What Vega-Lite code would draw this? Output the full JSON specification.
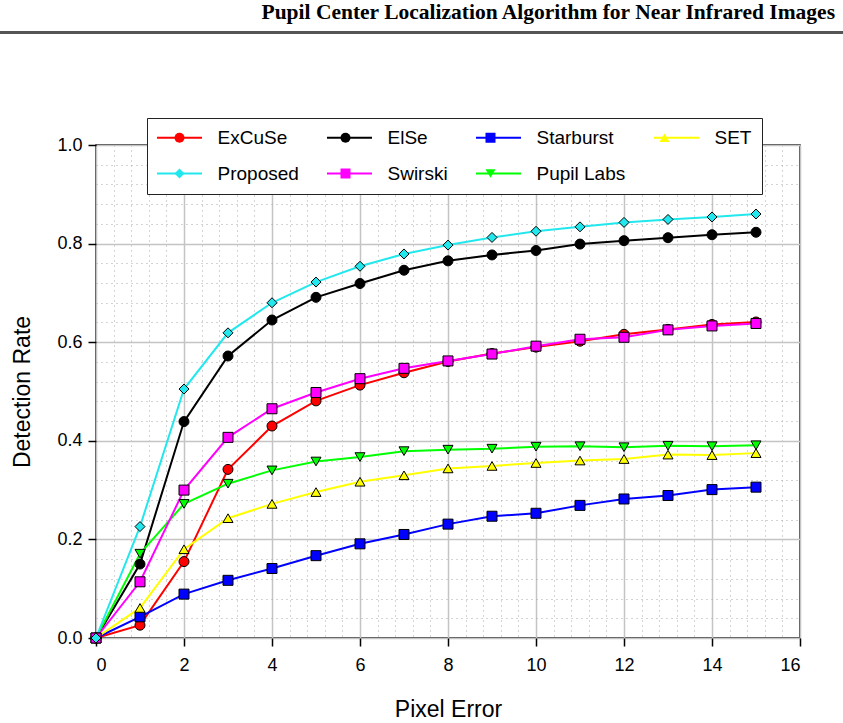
{
  "$schema": "https://vega.github.io/schema/vega-lite/v6.json",
  "width": 704,
  "height": 493,
  "autosize": {"type": "none"},
  "padding": {"left": 96, "top": 145, "right": 43, "bottom": 85},
  "background": "white",
  "title": {
    "text": "Pupil Center Localization Algorithm for Near Infrared Images",
    "anchor": "end",
    "frame": "group",
    "font": "Liberation Serif",
    "fontSize": 21.5,
    "fontWeight": "bold",
    "color": "black",
    "dx": 35,
    "offset": 8
  },
  "config": {
    "view": {"stroke": "#111111", "strokeWidth": 1.5},
    "font": "Liberation Sans"
  },
  "data": {
    "values": [
      {"m":"ExCuSe","x":0,"y":0},{"m":"ExCuSe","x":1,"y":0.026},{"m":"ExCuSe","x":2,"y":0.155},{"m":"ExCuSe","x":3,"y":0.342},{"m":"ExCuSe","x":4,"y":0.43},{"m":"ExCuSe","x":5,"y":0.481},{"m":"ExCuSe","x":6,"y":0.513},{"m":"ExCuSe","x":7,"y":0.538},{"m":"ExCuSe","x":8,"y":0.561},{"m":"ExCuSe","x":9,"y":0.577},{"m":"ExCuSe","x":10,"y":0.59},{"m":"ExCuSe","x":11,"y":0.602},{"m":"ExCuSe","x":12,"y":0.616},{"m":"ExCuSe","x":13,"y":0.626},{"m":"ExCuSe","x":14,"y":0.636},{"m":"ExCuSe","x":15,"y":0.641},
      {"m":"ElSe","x":0,"y":0},{"m":"ElSe","x":1,"y":0.15},{"m":"ElSe","x":2,"y":0.439},{"m":"ElSe","x":3,"y":0.572},{"m":"ElSe","x":4,"y":0.645},{"m":"ElSe","x":5,"y":0.691},{"m":"ElSe","x":6,"y":0.719},{"m":"ElSe","x":7,"y":0.746},{"m":"ElSe","x":8,"y":0.765},{"m":"ElSe","x":9,"y":0.777},{"m":"ElSe","x":10,"y":0.786},{"m":"ElSe","x":11,"y":0.799},{"m":"ElSe","x":12,"y":0.806},{"m":"ElSe","x":13,"y":0.812},{"m":"ElSe","x":14,"y":0.818},{"m":"ElSe","x":15,"y":0.823},
      {"m":"Starburst","x":0,"y":0},{"m":"Starburst","x":1,"y":0.043},{"m":"Starburst","x":2,"y":0.089},{"m":"Starburst","x":3,"y":0.117},{"m":"Starburst","x":4,"y":0.141},{"m":"Starburst","x":5,"y":0.167},{"m":"Starburst","x":6,"y":0.191},{"m":"Starburst","x":7,"y":0.21},{"m":"Starburst","x":8,"y":0.231},{"m":"Starburst","x":9,"y":0.247},{"m":"Starburst","x":10,"y":0.253},{"m":"Starburst","x":11,"y":0.269},{"m":"Starburst","x":12,"y":0.282},{"m":"Starburst","x":13,"y":0.289},{"m":"Starburst","x":14,"y":0.301},{"m":"Starburst","x":15,"y":0.306},
      {"m":"SET","x":0,"y":0},{"m":"SET","x":1,"y":0.061},{"m":"SET","x":2,"y":0.18},{"m":"SET","x":3,"y":0.243},{"m":"SET","x":4,"y":0.272},{"m":"SET","x":5,"y":0.296},{"m":"SET","x":6,"y":0.317},{"m":"SET","x":7,"y":0.33},{"m":"SET","x":8,"y":0.344},{"m":"SET","x":9,"y":0.349},{"m":"SET","x":10,"y":0.355},{"m":"SET","x":11,"y":0.36},{"m":"SET","x":12,"y":0.363},{"m":"SET","x":13,"y":0.372},{"m":"SET","x":14,"y":0.371},{"m":"SET","x":15,"y":0.375},
      {"m":"Pupil Labs","x":0,"y":0},{"m":"Pupil Labs","x":1,"y":0.171},{"m":"Pupil Labs","x":2,"y":0.272},{"m":"Pupil Labs","x":3,"y":0.313},{"m":"Pupil Labs","x":4,"y":0.34},{"m":"Pupil Labs","x":5,"y":0.358},{"m":"Pupil Labs","x":6,"y":0.367},{"m":"Pupil Labs","x":7,"y":0.379},{"m":"Pupil Labs","x":8,"y":0.382},{"m":"Pupil Labs","x":9,"y":0.384},{"m":"Pupil Labs","x":10,"y":0.388},{"m":"Pupil Labs","x":11,"y":0.389},{"m":"Pupil Labs","x":12,"y":0.387},{"m":"Pupil Labs","x":13,"y":0.39},{"m":"Pupil Labs","x":14,"y":0.389},{"m":"Pupil Labs","x":15,"y":0.391},
      {"m":"Swirski","x":0,"y":0},{"m":"Swirski","x":1,"y":0.114},{"m":"Swirski","x":2,"y":0.3},{"m":"Swirski","x":3,"y":0.407},{"m":"Swirski","x":4,"y":0.465},{"m":"Swirski","x":5,"y":0.498},{"m":"Swirski","x":6,"y":0.526},{"m":"Swirski","x":7,"y":0.547},{"m":"Swirski","x":8,"y":0.562},{"m":"Swirski","x":9,"y":0.576},{"m":"Swirski","x":10,"y":0.592},{"m":"Swirski","x":11,"y":0.606},{"m":"Swirski","x":12,"y":0.61},{"m":"Swirski","x":13,"y":0.625},{"m":"Swirski","x":14,"y":0.633},{"m":"Swirski","x":15,"y":0.638},
      {"m":"Proposed","x":0,"y":0},{"m":"Proposed","x":1,"y":0.226},{"m":"Proposed","x":2,"y":0.505},{"m":"Proposed","x":3,"y":0.619},{"m":"Proposed","x":4,"y":0.68},{"m":"Proposed","x":5,"y":0.722},{"m":"Proposed","x":6,"y":0.754},{"m":"Proposed","x":7,"y":0.779},{"m":"Proposed","x":8,"y":0.797},{"m":"Proposed","x":9,"y":0.8125},{"m":"Proposed","x":10,"y":0.825},{"m":"Proposed","x":11,"y":0.834},{"m":"Proposed","x":12,"y":0.843},{"m":"Proposed","x":13,"y":0.849},{"m":"Proposed","x":14,"y":0.854},{"m":"Proposed","x":15,"y":0.86}
    ]
  },
  "resolve": {
    "axis": {"x": "independent", "y": "independent"},
    "legend": {"stroke": "independent", "fill": "independent", "shape": "independent"}
  },
  "layer": [
    {
      "mark": {"type": "line", "strokeWidth": 2},
      "encoding": {
        "x": {
          "field": "x", "type": "quantitative",
          "scale": {"domain": [0, 16], "nice": false, "zero": false},
          "axis": {
            "orient": "bottom", "title": null, "labels": false, "ticks": false, "domain": false,
            "grid": true, "gridDash": [1, 4], "gridColor": "#a8a8a8", "gridWidth": 1,
            "values": [0.4,0.8,1.2,1.6,2.4,2.8,3.2,3.6,4.4,4.8,5.2,5.6,6.4,6.8,7.2,7.6,8.4,8.8,9.2,9.6,10.4,10.8,11.2,11.6,12.4,12.8,13.2,13.6,14.4,14.8,15.2,15.6]
          }
        },
        "y": {
          "field": "y", "type": "quantitative",
          "scale": {"domain": [0, 1], "nice": false, "zero": false},
          "axis": {
            "orient": "left", "title": null, "labels": false, "ticks": false, "domain": false,
            "grid": true, "gridDash": [1, 4], "gridColor": "#a8a8a8", "gridWidth": 1,
            "values": [0.04,0.08,0.12,0.16,0.24,0.28,0.32,0.36,0.44,0.48,0.52,0.56,0.64,0.68,0.72,0.76,0.84,0.88,0.92,0.96]
          }
        },
        "stroke": {
          "field": "m", "type": "nominal",
          "scale": {
            "domain": ["ExCuSe", "ElSe", "Starburst", "SET", "Proposed", "Swirski", "Pupil Labs"],
            "range": ["#ff0000", "#000000", "#0000ff", "#ffff00", "#22e8ee", "#ff00ff", "#00ff00"]
          },
          "legend": {
            "orient": "none", "legendX": 51, "legendY": -27,
            "direction": "horizontal", "columns": 4, "title": null,
            "symbolType": "M-4.5,0H4.5", "symbolSize": 100, "symbolStrokeWidth": 2, "symbolOffset": 13,
            "labelFont": "Liberation Sans", "labelFontSize": 19, "labelColor": "black", "labelOffset": 28.5,
            "columnPadding": 24, "rowPadding": 16, "padding": 10,
            "strokeColor": "#222222", "fillColor": "white"
          }
        }
      }
    },
    {
      "mark": {"type": "point", "filled": true, "stroke": "black", "strokeWidth": 1, "size": 100, "opacity": 1},
      "encoding": {
        "x": {
          "field": "x", "type": "quantitative",
          "scale": {"domain": [0, 16], "nice": false, "zero": false},
          "axis": {
            "orient": "bottom", "title": "Pixel Error", "values": [0,2,4,6,8,10,12,14,16],
            "grid": true, "gridColor": "#c4c4c4", "gridWidth": 1.5, "domain": false,
            "ticks": true, "tickSize": 8, "tickColor": "black", "tickWidth": 1.5,
            "labelFont": "Liberation Sans", "labelFontSize": 18, "labelColor": "black", "labelPadding": 10,
            "titleFont": "Liberation Sans", "titleFontSize": 23, "titleFontWeight": "normal", "titleColor": "black", "titlePadding": 24
          }
        },
        "y": {
          "field": "y", "type": "quantitative",
          "scale": {"domain": [0, 1], "nice": false, "zero": false},
          "axis": {
            "orient": "left", "title": "Detection Rate", "values": [0,0.2,0.4,0.6,0.8,1.0], "format": ".1f",
            "grid": true, "gridColor": "#c4c4c4", "gridWidth": 1.5, "domain": false,
            "ticks": true, "tickSize": 8, "tickColor": "black", "tickWidth": 1.5,
            "labelFont": "Liberation Sans", "labelFontSize": 18, "labelColor": "black", "labelPadding": 6,
            "titleFont": "Liberation Sans", "titleFontSize": 23, "titleFontWeight": "normal", "titleColor": "black", "titlePadding": 22
          }
        },
        "fill": {
          "field": "m", "type": "nominal",
          "scale": {
            "domain": ["ExCuSe", "ElSe", "Starburst", "SET", "Proposed", "Swirski", "Pupil Labs"],
            "range": ["#ff0000", "#000000", "#0000ff", "#ffff00", "#22e8ee", "#ff00ff", "#00ff00"]
          },
          "legend": {
            "orient": "none", "legendX": 51, "legendY": -27,
            "direction": "horizontal", "columns": 4, "title": null,
            "symbolSize": 100, "symbolStrokeColor": "black", "symbolStrokeWidth": 1, "symbolOpacity": 1, "symbolOffset": 13,
            "labelFont": "Liberation Sans", "labelFontSize": 19, "labelColor": "transparent", "labelOffset": 28.5,
            "columnPadding": 24, "rowPadding": 16, "padding": 10
          }
        },
        "shape": {
          "field": "m", "type": "nominal",
          "scale": {
            "domain": ["ExCuSe", "ElSe", "Starburst", "SET", "Proposed", "Swirski", "Pupil Labs"],
            "range": ["circle", "circle", "square", "triangle-up", "diamond", "square", "triangle-down"]
          },
          "legend": {
            "orient": "none", "legendX": 51, "legendY": -27,
            "direction": "horizontal", "columns": 4, "title": null,
            "symbolSize": 100, "symbolStrokeColor": "black", "symbolStrokeWidth": 1, "symbolOpacity": 1, "symbolOffset": 13,
            "labelFont": "Liberation Sans", "labelFontSize": 19, "labelColor": "transparent", "labelOffset": 28.5,
            "columnPadding": 24, "rowPadding": 16, "padding": 10
          }
        }
      }
    },
    {
      "mark": {"type": "rule", "color": "#555555", "strokeWidth": 1.5, "clip": false},
      "encoding": {
        "x": {"datum": -4.4, "type": "quantitative", "scale": {"domain": [0, 16], "nice": false, "zero": false}, "axis": null},
        "x2": {"datum": 17.2},
        "y": {"datum": 1.228, "type": "quantitative", "scale": {"domain": [0, 1], "nice": false, "zero": false}, "axis": null}
      }
    }
  ]
}
